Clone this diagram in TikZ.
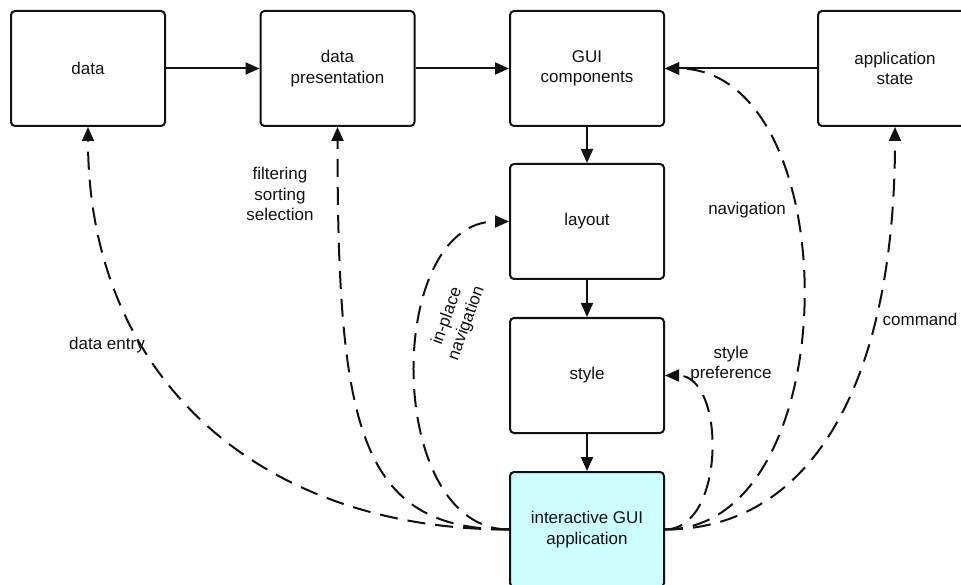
\documentclass[tikz,border=0pt]{standalone}
\usepackage{fontspec}
\setmainfont{Liberation Sans}
\usetikzlibrary{arrows.meta}
\definecolor{boxcyan}{HTML}{CCFFFF}
\definecolor{ink}{HTML}{111111}
\tikzset{
  box/.style={draw=ink, line width=2pt, rounded corners=4pt, minimum width=154pt, minimum height=115pt, inner sep=2pt, align=center, fill=white, text=ink},
  solidarrow/.style={draw=ink, line width=2pt, -{Triangle[length=14pt,width=12pt]}},
  dasharrow/.style={draw=ink, line width=2pt, dash pattern=on 18pt off 10pt, -{Triangle[length=14pt,width=12pt]}},
  lbl/.style={align=center, text=ink, inner sep=1pt},
}
\begin{document}
\begin{tikzpicture}[x=1pt,y=-1pt, font=\fontsize{17}{20.5}\selectfont]
\useasboundingbox (0,0) rectangle (961,585);
\fill[white] (0,0) rectangle (961,585);
\node[box] (data) at (88,68.5) {data};
\node[box] (pres) at (337.5,68.5) {data\\presentation};
\node[box] (gui) at (587,68.5) {GUI\\components};
\node[box] (state) at (895,68.5) {application\\state};
\node[box] (layout) at (587,221.5) {layout};
\node[box] (style) at (587,375.5) {style};
\node[box, fill=boxcyan] (app) at (587,529.5) {interactive GUI\\application};

\draw[solidarrow] (data.east) -- (pres.west);
\draw[solidarrow] (pres.east) -- (gui.west);
\draw[solidarrow] (state.west) -- (gui.east);
\draw[solidarrow] (gui.south) -- (layout.north);
\draw[solidarrow] (layout.south) -- (style.north);
\draw[solidarrow] (style.south) -- (app.north);

\draw[dasharrow] (app.west) .. controls +(-250,0) and +(0,250) .. (data.south);
\draw[dasharrow] (app.west) .. controls +(-150,0) and +(0,300) .. (pres.south);
\draw[dasharrow] (app.west) .. controls +(-125,0) and +(-125,0) .. (layout.west);
\draw[dasharrow] (app.east) .. controls +(184,0) and +(184,0) .. (gui.east);
\draw[dasharrow] (app.east) .. controls +(61,0) and +(61,0) .. (style.east);
\draw[dasharrow] (app.east) .. controls +(150,0) and +(0,250) .. (state.south);

\node[lbl] (l1) at (107,345) {data entry};
\node[lbl] (l2) at (280,194) {filtering\\sorting\\selection};
\node[lbl, rotate=70] (l3) at (457,320) {in-place\\navigation};
\node[lbl] (l4) at (747,210) {navigation};
\node[lbl] (l5) at (731,364) {style\\preference};
\node[lbl] (l6) at (920,319) {command};
\end{tikzpicture}
\end{document}
